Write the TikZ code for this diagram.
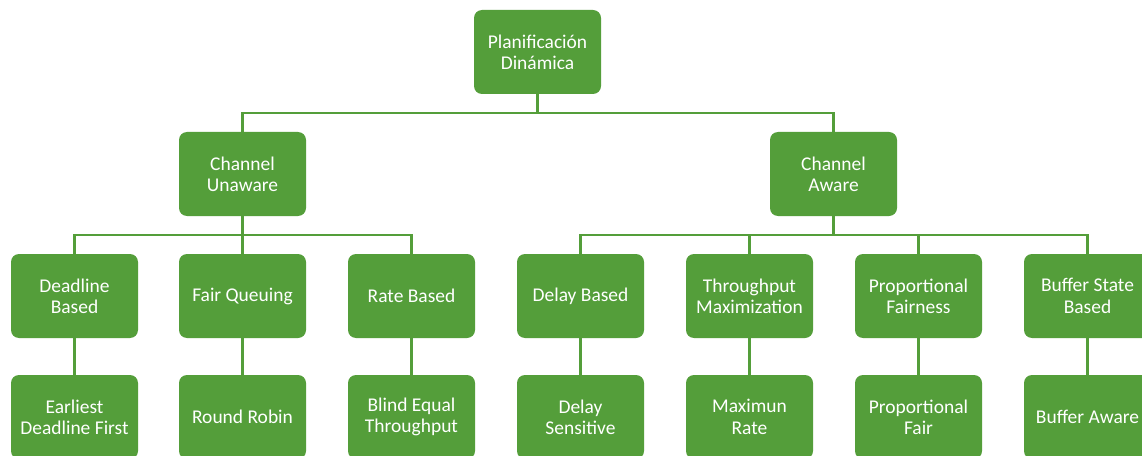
\documentclass[tikz,border=0pt]{standalone}
\usepackage{fontspec}
\setmainfont{Carlito}
\begin{document}
\definecolor{leaf}{RGB}{84,158,58}
\begin{tikzpicture}[x=0.75pt,y=-0.75pt,
  box/.style={fill=leaf, draw=none, rounded corners=6pt, minimum width=95.25pt,
    minimum height=63pt, inner sep=0pt, align=center, text=white,
    font=\fontsize{14.6pt}{16pt}\selectfont},
  link/.style={draw=leaf, line width=1.6pt}]
\clip (0,0) rectangle (1142,456);
\fill[white] (0,0) rectangle (1142,456);

% root
\node[box] (root) at (537.5,52) {Planificación\\Dinámica};
% first level
\node[box] (cu) at (242.5,174) {Channel\\Unaware};
\node[box] (ca) at (833.5,174) {Channel\\Aware};
% second level
\node[box] (db) at (74.5,296) {Deadline\\Based};
\node[box] (fq) at (242.5,296) {Fair Queuing};
\node[box] (rb) at (411.5,296) {Rate Based};
\node[box] (dl) at (580.5,296) {Delay Based};
\node[box] (tm) at (749.5,296) {Throughput\\Maximization};
\node[box] (pf) at (918.5,296) {Proportional\\Fairness};
\node[box] (bs) at (1087.5,296) {Buffer State\\Based};
% third level
\node[box] (edf) at (74.5,417) {Earliest\\Deadline First};
\node[box] (rr)  at (242.5,417) {Round Robin};
\node[box] (bet) at (411.5,417) {Blind Equal\\Throughput};
\node[box] (ds)  at (580.5,417) {Delay\\Sensitive};
\node[box] (mr)  at (749.5,417) {Maximun\\Rate};
\node[box] (pfa) at (918.5,417) {Proportional\\Fair};
\node[box] (ba)  at (1087.5,417) {Buffer Aware};

% tree connectors
\draw[link] (root.south) -- ++(0,19) -| (cu.north);
\draw[link] (root.south) ++(0,19) -| (ca.north);
\draw[link] (cu.south) -- ++(0,19) -| (db.north);
\draw[link] (cu.south) -- (fq.north);
\draw[link] (cu.south) ++(0,19) -| (rb.north);
\draw[link] (ca.south) -- ++(0,19) -| (dl.north);
\draw[link] (ca.south) ++(0,19) -| (tm.north);
\draw[link] (ca.south) ++(0,19) -| (pf.north);
\draw[link] (ca.south) ++(0,19) -| (bs.north);
\foreach \a/\b in {db/edf,fq/rr,rb/bet,dl/ds,tm/mr,pf/pfa,bs/ba}
  \draw[link] (\a.south) -- (\b.north);
\end{tikzpicture}
\end{document}
